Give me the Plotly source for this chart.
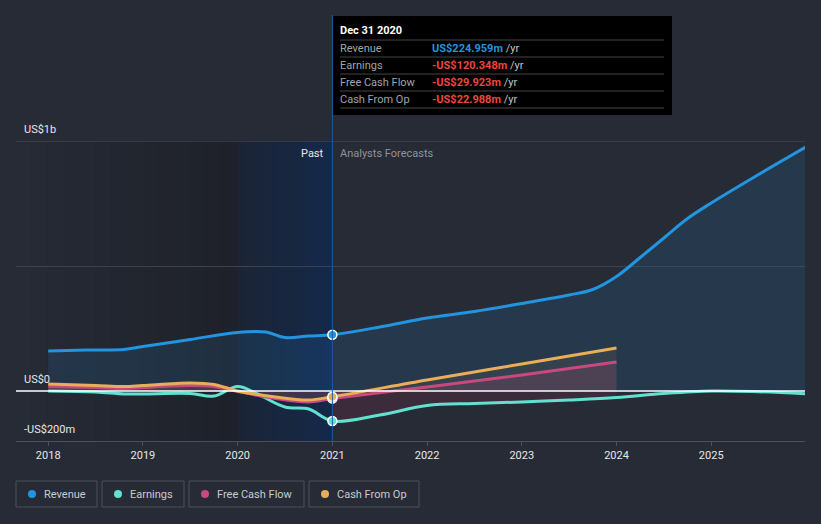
import plotly.graph_objects as go

# ---------------- data (US$ millions) ----------------
rev_x = [2018, 2018.4, 2018.8, 2019, 2019.5, 2020, 2020.3, 2020.5, 2020.75, 2021,
         2021.5, 2022, 2022.5, 2023, 2023.5, 2023.75, 2024, 2024.25, 2024.5, 2024.75,
         2025, 2025.5, 2026]
rev_y = [160, 164, 166, 178, 206, 234, 236, 214, 220, 225,
         256, 292, 318, 350, 384, 406, 458, 534, 612, 690,
         752, 866, 976]

earn_x = [2018, 2018.5, 2018.8, 2019, 2019.5, 2019.75, 2020, 2020.2, 2020.5, 2020.75, 2021,
          2021.5, 2022, 2022.5, 2023, 2023.5, 2024, 2024.5, 2025, 2025.5, 2026]
earn_y = [0, -4, -12, -12, -10, -20, 18, -10, -64, -72, -120,
          -96, -58, -50, -44, -36, -26, -10, 0, -3, -11]

cfo_x = [2018, 2018.5, 2018.8, 2019, 2019.5, 2019.75, 2020, 2020.4, 2020.75, 2021, 2022, 2023, 2024]
cfo_y = [28, 22, 18, 22, 32, 26, 0, -24, -36, -23, 44, 108, 172]

fcf_x = [2018, 2018.5, 2018.8, 2019, 2019.5, 2019.75, 2020, 2020.4, 2020.75, 2021, 2022, 2023, 2024]
fcf_y = [18, 14, 10, 14, 22, 18, -2, -30, -44, -30, 16, 64, 116]

years = [2018, 2019, 2020, 2021, 2022, 2023, 2024, 2025]
year_labels = ["2018", "2019", "2020", "2021", "2022", "2023", "2024", "2025"]

series_names = ["Revenue", "Earnings", "Free Cash Flow", "Cash From Op"]
tooltip_date = "Dec 31 2020"
tooltip_values = ["US$224.959m", "-US$120.348m", "-US$29.923m", "-US$22.988m"]
highlight_x = 2021

# ---------------- styling ----------------
BG = "#262b36"
C_REV = "#2394df"
C_EARN = "#63e0cf"
C_FCF = "#c8497f"
C_CFO = "#e9ae5a"
FONT = "Roboto"

W, H = 821, 524
L, R, T, B = 16, 16, 141, 83
pw, ph = W - L - R, H - T - B


def px(xp):
    return (xp - L) / pw


def py(yp):
    return (H - B - yp) / ph


fig = go.Figure()

# revenue fill + line
fig.add_trace(go.Scatter(x=rev_x, y=rev_y, mode="lines", line=dict(color=C_REV, width=3, shape="spline"),
                         fill="tozeroy", fillcolor="rgba(35,148,223,0.13)", hoverinfo="skip"))

# earnings forecast fill (2021-2024)
ef_x = [x for x in earn_x if 2021 <= x <= 2024]
ef_y = [y for x, y in zip(earn_x, earn_y) if 2021 <= x <= 2024]
fig.add_trace(go.Scatter(x=ef_x, y=ef_y, mode="lines", line=dict(width=0, shape="spline"),
                         fill="tozeroy", fillcolor="rgba(200,60,90,0.14)", hoverinfo="skip"))

# cash from op / fcf fills
fig.add_trace(go.Scatter(x=cfo_x, y=cfo_y, mode="lines", line=dict(width=0, shape="spline"),
                         fill="tozeroy", fillcolor="rgba(233,174,90,0.08)", hoverinfo="skip"))
fig.add_trace(go.Scatter(x=fcf_x, y=fcf_y, mode="lines", line=dict(width=0, shape="spline"),
                         fill="tozeroy", fillcolor="rgba(200,73,127,0.16)", hoverinfo="skip"))

# lines
fig.add_trace(go.Scatter(x=earn_x, y=earn_y, mode="lines", line=dict(color=C_EARN, width=3, shape="spline"),
                         hoverinfo="skip"))
fig.add_trace(go.Scatter(x=fcf_x, y=fcf_y, mode="lines", line=dict(color=C_FCF, width=3, shape="spline"),
                         hoverinfo="skip"))
fig.add_trace(go.Scatter(x=cfo_x, y=cfo_y, mode="lines", line=dict(color=C_CFO, width=3, shape="spline"),
                         hoverinfo="skip"))

# highlight markers at Dec 31 2020
for xs, ys, c in [(rev_x, rev_y, C_REV), (earn_x, earn_y, C_EARN), (fcf_x, fcf_y, C_FCF), (cfo_x, cfo_y, C_CFO)]:
    yv = ys[xs.index(highlight_x)]
    fig.add_trace(go.Scatter(x=[highlight_x], y=[yv], mode="markers",
                             marker=dict(color=c, size=9, line=dict(color="white", width=1.5)),
                             hoverinfo="skip"))

shapes = []
# past shading gradient (dark part)
n = 14
x0, x1 = 2017.66, 2020.0
for i in range(n):
    a = x0 + (x1 - x0) * i / n
    b = x0 + (x1 - x0) * (i + 1) / n
    t = (i + 0.5) / n
    r = round(38 + (30 - 38) * t)
    g = round(43 + (33 - 43) * t)
    bl = round(54 + (41 - 54) * t)
    shapes.append(dict(type="rect", xref="x", yref="paper", x0=a, x1=b, y0=0, y1=1,
                       fillcolor=f"rgb({r},{g},{bl})", line=dict(width=0), layer="below"))
# blue gradient (last year of past)
x0, x1 = 2020.0, 2021.0
for i in range(n):
    a = x0 + (x1 - x0) * i / n
    b = x0 + (x1 - x0) * (i + 1) / n
    t = (i + 0.5) / n
    r = round(27 + (20 - 27) * t)
    g = round(36 + (41 - 36) * t)
    bl = round(52 + (75 - 52) * t)
    shapes.append(dict(type="rect", xref="x", yref="paper", x0=a, x1=b, y0=0, y1=1,
                       fillcolor=f"rgb({r},{g},{bl})", line=dict(width=0), layer="below"))

# top gridline (US$1b)
shapes.append(dict(type="line", xref="paper", yref="y", x0=0, x1=1, y0=1000, y1=1000,
                   line=dict(color="#4a4f5a", width=1)))
# zero line
shapes.append(dict(type="line", xref="paper", yref="y", x0=0, x1=1, y0=0, y1=0,
                   line=dict(color="#ffffff", width=1.5)))
# vertical highlight line
shapes.append(dict(type="line", xref="x", yref="paper", x0=highlight_x, x1=highlight_x, y0=0, y1=py(15),
                   line=dict(color="#1f5aa6", width=1)))

# tooltip box
shapes.append(dict(type="rect", xref="paper", yref="paper", x0=px(333), x1=px(672), y0=py(16), y1=py(115),
                   fillcolor="#000000", line=dict(width=0)))
for yy in [40, 57, 74, 91, 108]:
    shapes.append(dict(type="line", xref="paper", yref="paper", x0=px(340), x1=px(664), y0=py(yy), y1=py(yy),
                       line=dict(color="#444444", width=1)))

annotations = []
annotations.append(dict(xref="paper", yref="paper", x=px(338), y=py(31), text="<b>" + tooltip_date + "</b>",
                        showarrow=False, xanchor="left", yanchor="middle",
                        font=dict(family=FONT, size=11, color="#ffffff")))
val_colors = [C_REV, "#f0443e", "#f0443e", "#f0443e"]
for i, (nm, v, c) in enumerate(zip(series_names, tooltip_values, val_colors)):
    yy = 48.5 + 17 * i
    annotations.append(dict(xref="paper", yref="paper", x=px(338), y=py(yy), text=nm, showarrow=False,
                            xanchor="left", yanchor="middle", font=dict(family=FONT, size=11, color="#a0a4aa")))
    annotations.append(dict(xref="paper", yref="paper", x=px(430), y=py(yy),
                            text=f"<b><span style='color:{c}'>{v}</span></b> /yr", showarrow=False,
                            xanchor="left", yanchor="middle", font=dict(family=FONT, size=11, color="#c0c3c8")))

# y labels
for txt, yp in [("US$1b", 129), ("US$0", 379), ("-US$200m", 429)]:
    annotations.append(dict(xref="paper", yref="paper", x=px(22), y=py(yp), text=txt, showarrow=False,
                            xanchor="left", yanchor="middle", font=dict(family=FONT, size=11, color="#e6e8eb")))

# Past / Analysts Forecasts
annotations.append(dict(xref="x", yref="paper", x=highlight_x, xshift=-6, y=py(153), text="Past", showarrow=False,
                        xanchor="right", yanchor="middle", font=dict(family=FONT, size=11, color="#e6e8eb")))
annotations.append(dict(xref="x", yref="paper", x=highlight_x, xshift=6, y=py(153), text="Analysts Forecasts",
                        showarrow=False, xanchor="left", yanchor="middle",
                        font=dict(family=FONT, size=11, color="#8e939b")))

# custom legend
boxes = [(16, 97), (102, 184), (189, 304), (309, 419)]
leg_colors = [C_REV, C_EARN, C_FCF, C_CFO]
for (bx0, bx1), nm, c in zip(boxes, series_names, leg_colors):
    shapes.append(dict(type="rect", xref="paper", yref="paper", x0=px(bx0), x1=px(bx1), y0=py(481), y1=py(507),
                       line=dict(color="#4a505b", width=1), fillcolor="rgba(0,0,0,0)"))
    shapes.append(dict(type="circle", xref="paper", yref="paper", x0=px(bx0 + 12), x1=px(bx0 + 20),
                       y0=py(490), y1=py(498), fillcolor=c, line=dict(width=0)))
    annotations.append(dict(xref="paper", yref="paper", x=px(bx0 + 26), y=py(494), text=nm, showarrow=False,
                            xanchor="left", yanchor="middle", font=dict(family=FONT, size=11, color="#c8cbd0")))

fig.update_layout(
    width=W, height=H,
    margin=dict(l=L, r=R, t=T, b=B),
    paper_bgcolor=BG, plot_bgcolor=BG,
    showlegend=False,
    shapes=shapes, annotations=annotations,
    xaxis=dict(range=[2017.66, 2025.99], tickvals=years, ticktext=year_labels, showgrid=False,
               zeroline=False, showline=True, linecolor="#4a505b", linewidth=1,
               ticks="outside", ticklen=4, tickcolor="#4a505b",
               tickfont=dict(family=FONT, size=11, color="#e6e8eb"), fixedrange=True),
    yaxis=dict(range=[-200, 1000], tickvals=[500], showticklabels=False, showgrid=True,
               gridcolor="#3c414b", gridwidth=1, zeroline=False, fixedrange=True),
    font=dict(family=FONT),
)

fig.write_html("out.html", config={"displayModeBar": False},
               post_script="document.body.style.margin='0px';document.body.style.background='#262b36';")
